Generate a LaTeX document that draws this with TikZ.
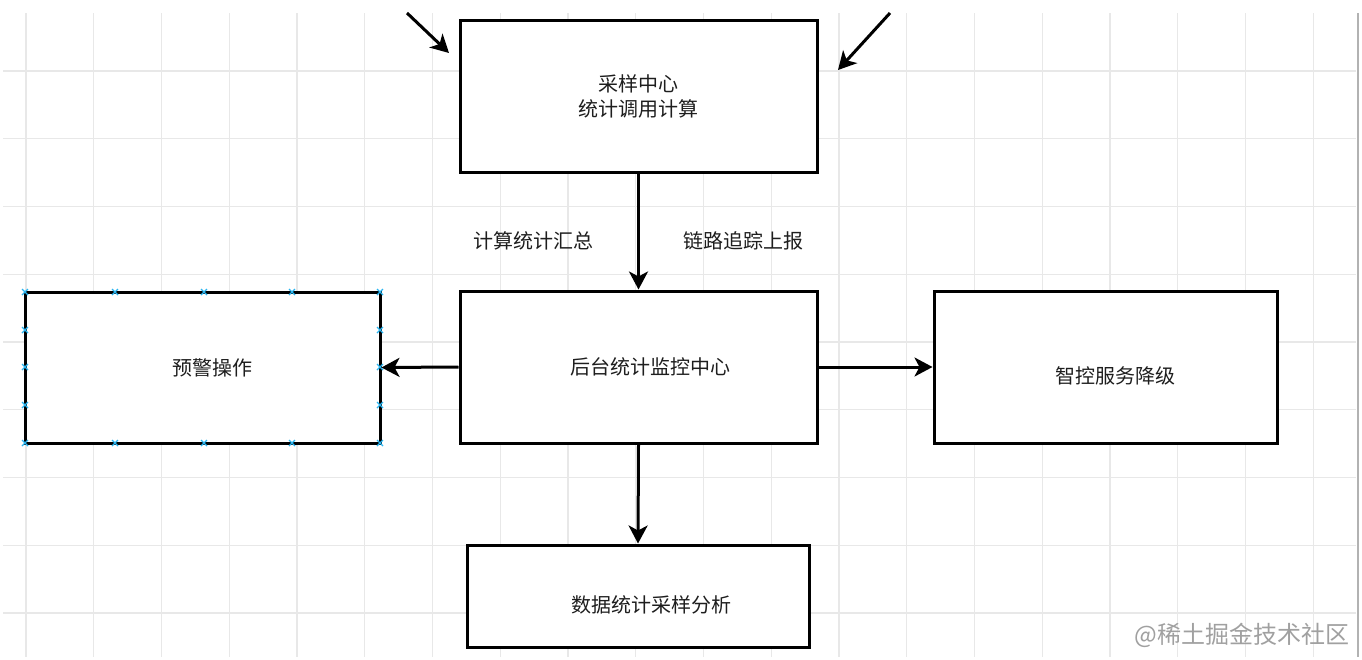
\documentclass[tikz,border=0pt]{standalone}
\usepackage{fontspec}
\setmainfont{Noto Sans CJK SC}
\usetikzlibrary{arrows.meta}
\definecolor{gridc}{RGB}{232,232,232}
\definecolor{selblue}{RGB}{41,182,242}
\definecolor{txt}{RGB}{30,30,30}
\definecolor{wm}{RGB}{160,160,160}
\tikzset{
  gridline/.style={draw=gridc, line width=1.2pt},
  box/.style={draw=black, line width=3pt, fill=white, rectangle, inner sep=0pt, text=txt, font=\fontsize{20}{25}\selectfont, align=center},
  arr/.style={draw=black, line width=3pt, -{Stealth[length=18pt,width=19pt,inset=5pt]}},
  lbl/.style={text=txt, font=\fontsize{20}{25}\selectfont, inner sep=0pt},
  bluex/.style={draw=selblue, line width=1.2pt},
}
\begin{document}
\begin{tikzpicture}[x=1pt,y=-1pt]
\useasboundingbox (0,0) rectangle (1362,659);
\fill[white] (0,0) rectangle (1362,659);
% grid
\foreach \i in {0,...,19} \draw[gridline] ({26+67.75*\i},13) -- ({26+67.75*\i},657);
\foreach \j in {0,...,8} \draw[gridline] (3,{71+67.75*\j}) -- (1356,{71+67.75*\j});
\draw[draw=black!30, line width=1.5pt] (1358,13) -- (1358,657);

% boxes
\node[box, minimum width=357pt, minimum height=152pt] (top) at (638.5,96) {采样中心\\统计调用计算};
\node[box, minimum width=357pt, minimum height=152pt, label={[lbl, xshift=12pt]center:后台统计监控中心}] (mid) at (638.5,367) {};
\node[box, minimum width=355pt, minimum height=151pt, label={[lbl, xshift=10pt]center:预警操作}] (left) at (202.5,367.5) {};
\node[box, minimum width=343pt, minimum height=152pt, label={[lbl, xshift=10pt, yshift=-9pt]center:智控服务降级}] (right) at (1105.5,367) {};
\node[box, minimum width=342pt, minimum height=102pt, label={[lbl, xshift=13pt, yshift=-9pt]center:数据统计采样分析}] (bot) at (638,596) {};

% selection markers on left box
\foreach \x in {25,115,204,292,380} {
  \foreach \y in {292,443} {
    \draw[bluex] (\x-3,\y-3) -- (\x+3,\y+3) (\x-3,\y+3) -- (\x+3,\y-3);
  }
}
\foreach \x in {25,380} {
  \foreach \y in {330,367,405} {
    \draw[bluex] (\x-3,\y-3) -- (\x+3,\y+3) (\x-3,\y+3) -- (\x+3,\y-3);
  }
}

% arrows
\draw[arr] (top.south) -- (mid.north);
\draw[arr] (mid.west) -- (left.east);
\draw[arr] (mid.east) -- (right.west);
\draw[arr] (mid.south) -- (bot.north);

\coordinate (s1) at (407,13);
\coordinate (t1) at (449,53);
\coordinate (s2) at (890,13);
\coordinate (t2) at (838,70);
\draw[arr] (s1) -- (t1);
\draw[arr] (s2) -- (t2);

% edge labels
\node[lbl] (l1) at (533,241) {计算统计汇总};
\node[lbl] (l2) at (743,241) {链路追踪上报};

% watermark
\node[text=wm, font=\fontsize{24}{28}\selectfont, inner sep=0pt] (wmk) at (1242,635) {@稀土掘金技术社区};
\end{tikzpicture}
\end{document}
